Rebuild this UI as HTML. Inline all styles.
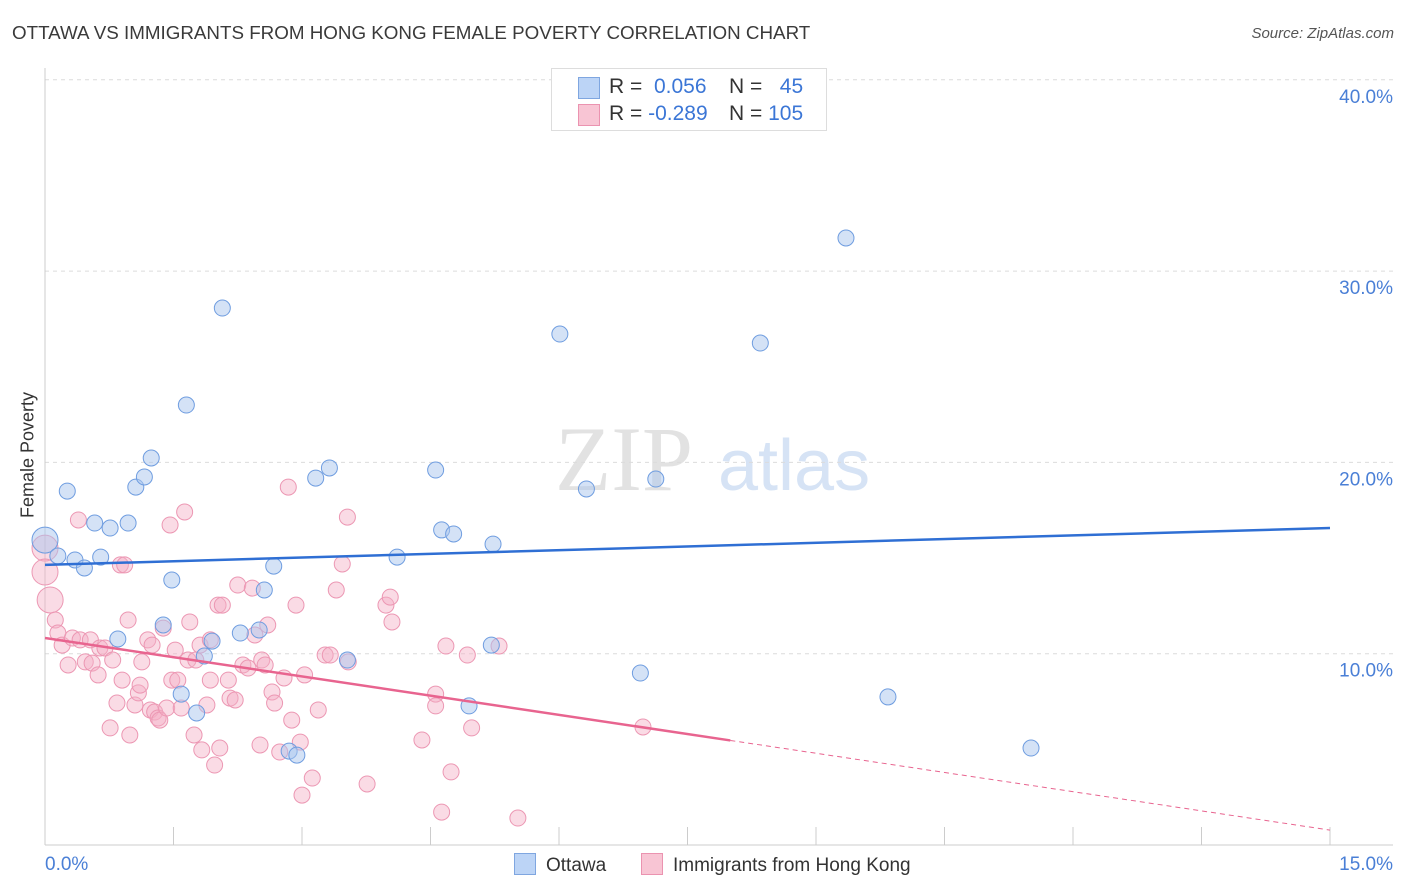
<!DOCTYPE html>
<html><head><meta charset="utf-8"><style>
body{margin:0;background:#fff;font-family:"Liberation Sans",sans-serif;}
#wrap{position:relative;width:1406px;height:892px;overflow:hidden;}
.t{position:absolute;white-space:nowrap;}
</style></head><body>
<div id="wrap">
<div class="t" style="left:12px;top:22px;font-size:18.8px;color:#3a3a3a;">OTTAWA VS IMMIGRANTS FROM HONG KONG FEMALE POVERTY CORRELATION CHART</div>
<div class="t" style="right:12px;top:25px;font-size:15px;color:#555;font-style:italic;">Source: ZipAtlas.com</div>
<div class="t" style="left:28px;top:455px;font-size:18px;color:#333;transform:translate(-50%,-50%) rotate(-90deg);">Female Poverty</div>
<svg id="svg" width="1406" height="892" style="position:absolute;left:0;top:0"></svg>
<div style="position:absolute;left:551px;top:68px;width:274px;height:61px;border:1px solid #ddd;background:#fff;font-size:21px;">
 <div style="position:absolute;left:26px;top:8px;width:20px;height:20px;background:#bcd4f6;border:1px solid #7fa6e0;"></div>
 <div class="t" style="left:57px;top:6px;color:#333;">R = <span style="color:#3b76d6">&nbsp;0.056</span></div>
 <div class="t" style="left:177px;top:6px;color:#333;">N = <span style="color:#3b76d6">&nbsp;&nbsp;45</span></div>
 <div style="position:absolute;left:26px;top:35px;width:20px;height:20px;background:#f8c5d4;border:1px solid #eb93b0;"></div>
 <div class="t" style="left:57px;top:33px;color:#333;">R = <span style="color:#3b76d6">-0.289</span></div>
 <div class="t" style="left:177px;top:33px;color:#333;">N = <span style="color:#3b76d6">105</span></div>
</div>
<div class="t" style="left:514px;top:853px;font-size:19px;color:#333;"><span style="display:inline-block;width:20px;height:20px;background:#bcd4f6;border:1px solid #7fa6e0;vertical-align:-4px;margin-right:10px;"></span>Ottawa</div>
<div class="t" style="left:641px;top:853px;font-size:19px;color:#333;"><span style="display:inline-block;width:20px;height:20px;background:#f8c5d4;border:1px solid #eb93b0;vertical-align:-4px;margin-right:10px;"></span>Immigrants from Hong Kong</div>
</div>
<script>
const blueX=[0,.15,.26,.35,.46,.58,.65,.76,.85,.97,1.06,1.16,1.24,1.38,1.48,1.59,1.65,1.77,1.86,1.95,2.07,2.28,2.5,2.56,2.67,2.85,2.94,3.16,3.32,3.53,4.11,4.56,4.63,4.77,4.95,5.23,5.21,6.01,6.32,6.95,7.13,8.35,9.35,9.84,11.51];
const blueY=[15.94,15.11,18.5,14.9,14.48,16.83,15.05,16.57,10.77,16.83,18.71,19.24,20.23,11.5,13.85,7.89,23.0,6.9,9.88,10.66,28.07,11.08,11.24,13.33,14.58,4.91,4.7,19.18,19.71,9.67,15.05,19.6,16.47,16.26,7.27,15.73,10.45,26.71,18.61,8.99,19.13,26.24,31.73,7.74,5.07];
const pinkX=[0,0,.06,.12,.15,.2,.27,.32,.39,.41,.47,.53,.55,.62,.64,.7,.76,.79,.84,.88,.9,.93,.97,.99,1.05,1.09,1.11,1.13,1.2,1.23,1.25,1.28,1.32,1.34,1.38,1.42,1.46,1.48,1.52,1.55,1.59,1.63,1.67,1.69,1.74,1.76,1.81,1.83,1.89,1.93,1.93,1.98,2.02,2.04,2.07,2.14,2.16,2.22,2.25,2.31,2.37,2.42,2.45,2.51,2.53,2.57,2.6,2.65,2.68,2.74,2.79,2.84,2.88,2.93,2.98,3.0,3.03,3.12,3.19,3.27,3.33,3.4,3.47,3.53,3.54,3.76,3.98,4.03,4.05,4.4,4.56,4.56,4.63,4.68,4.74,4.93,4.98,5.3,5.52,6.98];
const pinkY=[15.52,14.27,12.81,11.76,11.08,10.45,9.41,10.82,16.99,10.72,9.57,10.72,9.51,8.89,10.3,10.3,6.12,9.67,7.42,14.64,8.62,14.64,11.76,5.75,7.32,7.95,8.36,9.57,10.72,7.06,10.45,6.95,6.64,6.53,11.34,7.16,16.73,8.62,10.19,8.62,7.16,17.41,9.67,11.66,5.75,9.67,10.45,4.97,7.32,10.72,8.62,4.18,12.54,5.07,12.54,8.62,7.68,7.58,13.59,9.41,9.25,13.43,10.98,5.23,9.67,9.41,11.5,8.0,7.42,4.86,8.73,18.71,6.53,12.54,5.38,2.61,8.89,3.5,7.06,9.93,9.93,13.33,14.69,17.14,9.57,3.19,12.54,12.96,11.66,5.49,7.89,7.27,1.72,10.4,3.82,9.93,6.12,10.4,1.41,6.17];
const bigIdxBlue=[0];
const bigIdxPink=[0,1,2];
const yTicks=[10,20,30,40];
const blueTrend=[14.64,16.57];
const pinkTrend=[10.82,0.78];
const pinkSolidEnd=8.0;
const sx=v=>45+v/15*1285;
const sy=v=>845-v*19.13;
const svg=document.getElementById('svg');
const NS='http://www.w3.org/2000/svg';
function mk(tag,attrs){const e=document.createElementNS(NS,tag);for(const k in attrs)e.setAttribute(k,attrs[k]);svg.appendChild(e);return e;}
let wm=mk('text',{x:555,y:490,'font-size':92,fill:'#e2e2e2','font-family':'Liberation Serif, serif'});wm.textContent='ZIP';


let wm2=mk('text',{x:718,y:490,'font-size':72,fill:'#d6e3f5','font-family':'Liberation Sans, sans-serif'});wm2.textContent='atlas';


yTicks.forEach(t=>{
 const l=mk('line',{x1:45,x2:1393,y1:sy(t),y2:sy(t),stroke:'#dcdcdc','stroke-dasharray':'4,4'});
 
 
 const tx=mk('text',{x:1393,y:sy(t)+23,'text-anchor':'end','font-size':19,fill:'#4a7fd6'});tx.textContent=t.toFixed(1)+'%';
 
 
});
const ax=mk('line',{x1:45,x2:45,y1:68,y2:845,stroke:'#ccc'});


const bx=mk('line',{x1:45,x2:1393,y1:845,y2:845,stroke:'#ccc'});


for(let i=0;i<=10;i++){const tk=mk('line',{x1:sx(i*1.5),x2:sx(i*1.5),y1:827,y2:845,stroke:'#ccc'});
 
 }
[['0.0%',45,'start'],['15.0%',1393,'end']].forEach(a=>{const t=mk('text',{x:a[1],y:870,'text-anchor':a[2],'font-size':19,fill:'#4a7fd6'});t.textContent=a[0];
 
 });
pinkX.forEach((x,i)=>{const c=mk('circle',{cx:sx(x),cy:sy(pinkY[i]),r:bigIdxPink.includes(i)?13:8,fill:'rgba(245,175,198,0.45)',stroke:'#ec97b3','stroke-width':1});
 
 });
blueX.forEach((x,i)=>{const c=mk('circle',{cx:sx(x),cy:sy(blueY[i]),r:bigIdxBlue.includes(i)?13:8,fill:'rgba(170,198,238,0.5)',stroke:'#6f9de0','stroke-width':1});
 
 });
const bl=mk('line',{x1:sx(0),y1:sy(blueTrend[0]),x2:sx(15),y2:sy(blueTrend[1]),stroke:'#2f6fd4','stroke-width':2.5});


const py=x=>pinkTrend[0]+(pinkTrend[1]-pinkTrend[0])*x/15;
const pl=mk('line',{x1:sx(0),y1:sy(py(0)),x2:sx(pinkSolidEnd),y2:sy(py(pinkSolidEnd)),stroke:'#e8648f','stroke-width':2.5});


const pd=mk('line',{x1:sx(pinkSolidEnd),y1:sy(py(pinkSolidEnd)),x2:sx(15),y2:sy(py(15)),stroke:'#e8648f','stroke-width':1,'stroke-dasharray':'5,4'});


</script>
</body></html>
